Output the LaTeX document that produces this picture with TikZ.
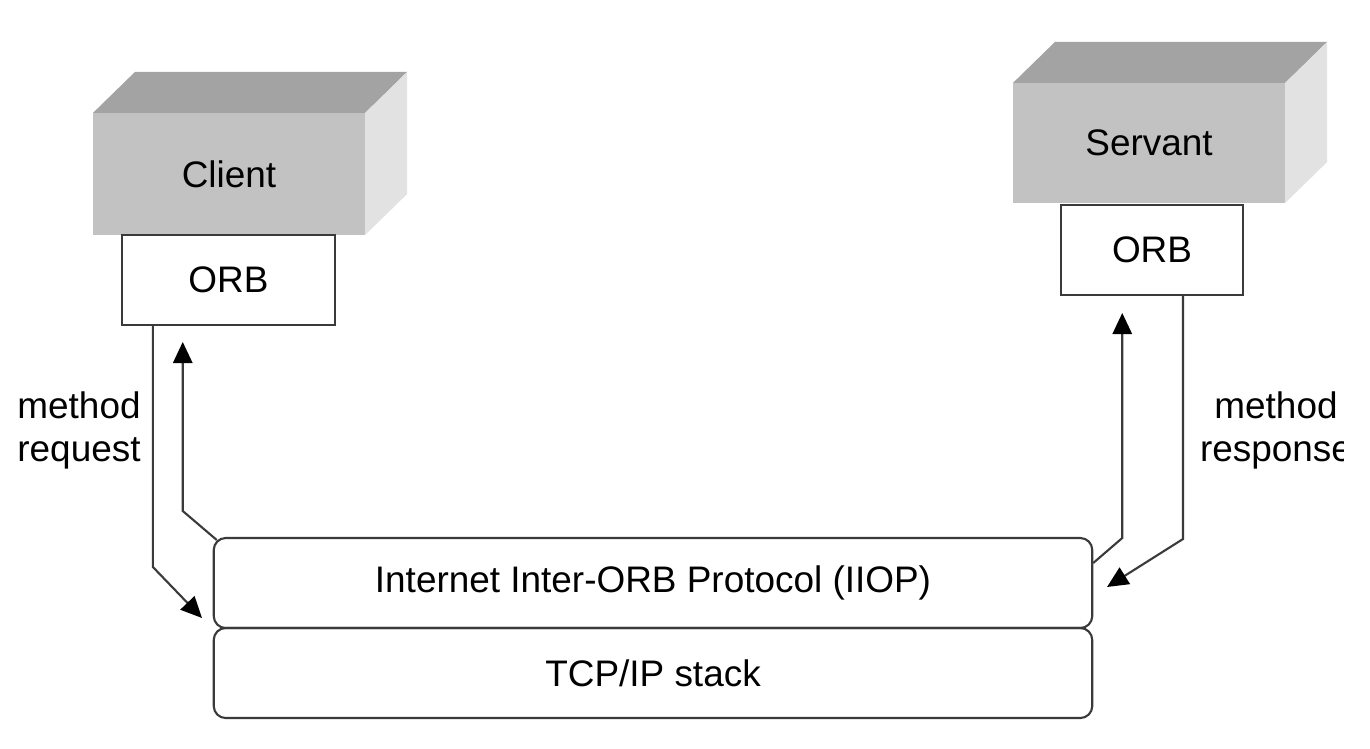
\documentclass[tikz,border=0pt]{standalone}
\usepackage{fontspec}
\setmainfont{Liberation Sans}
\usetikzlibrary{arrows.meta,calc}
\definecolor{frontgray}{HTML}{C2C2C2}
\definecolor{topgray}{HTML}{A3A3A3}
\definecolor{sidegray}{HTML}{E2E2E2}
\definecolor{linegray}{HTML}{3A3A3A}
\tikzset{
  front/.style={fill=frontgray, inner sep=0pt, outer sep=0pt, font=\fontsize{10.5}{12}\selectfont},
  orbbox/.style={draw=linegray, line width=0.6pt, fill=white, inner sep=0pt, outer sep=0pt, font=\fontsize{10.5}{12}\selectfont},
  layer/.style={draw=linegray, line width=0.6pt, rounded corners=0.12cm, inner sep=0pt, outer sep=0pt, minimum width=8.78cm, minimum height=0.9cm, font=\fontsize{10.5}{12}\selectfont},
  conn/.style={draw=linegray, line width=0.6pt},
  arr/.style={conn, -{Triangle[length=6pt,width=5.5pt,color=black]}},
  lbl/.style={align=center, inner sep=0pt, font=\fontsize{10.5}{12.2}\selectfont}
}
\begin{document}
\begin{tikzpicture}[x=0.01cm,y=-0.01cm]
\useasboundingbox (0,0) rectangle (1370,748);
% Client block
\node[front, minimum width=2.72cm, minimum height=1.22cm] (client) at (229,174) {Client};
\fill[topgray] (client.north west) -- ++(42,-41) -- ($(client.north east)+(42,-41)$) -- (client.north east) -- cycle;
\fill[sidegray] (client.north east) -- ++(42,-41) -- ($(client.south east)+(42,-41)$) -- (client.south east) -- cycle;
\node[orbbox, minimum width=2.13cm, minimum height=0.9cm] (corb) at (228.5,280) {ORB};
% Servant block
\node[front, minimum width=2.72cm, minimum height=1.2cm] (servant) at (1149,143) {Servant};
\fill[topgray] (servant.north west) -- ++(42,-41) -- ($(servant.north east)+(42,-41)$) -- (servant.north east) -- cycle;
\fill[sidegray] (servant.north east) -- ++(42,-41) -- ($(servant.south east)+(42,-41)$) -- (servant.south east) -- cycle;
\node[orbbox, minimum width=1.82cm, minimum height=0.9cm] (sorb) at (1152,250) {ORB};
% Layers
\node[layer] (iiop) at (653,583) {Internet Inter-ORB Protocol (IIOP)};
\node[layer] (tcp) at (653,673) {TCP/IP stack};
% Coordinates for arrow ends
\coordinate (reqtip) at (202,618);
\coordinate (resptip) at (1107,587);
% Left arrows
\draw[arr] ($(corb.south west)+(31,0)$) -- ++(0,242) -- (reqtip);
\draw[arr] ($(iiop.north west)+(3,2)$) -- ++(-34,-29) -- ++(0,-169);
% Right arrows
\draw[arr] ($(iiop.north east)+(1,25)$) -- ++(29,-25) -- ++(0,-225);
\draw[arr] ($(sorb.south west)+(122,0)$) -- ++(0,244) -- (resptip);
% Labels
\node[lbl] (reqlbl) at (79,430) {method\\request};
\begin{scope}
\clip (0,0) rectangle (1343,748);
\node[lbl] (resplbl) at (1276,430) {method\\response};
\end{scope}
\end{tikzpicture}
\end{document}
